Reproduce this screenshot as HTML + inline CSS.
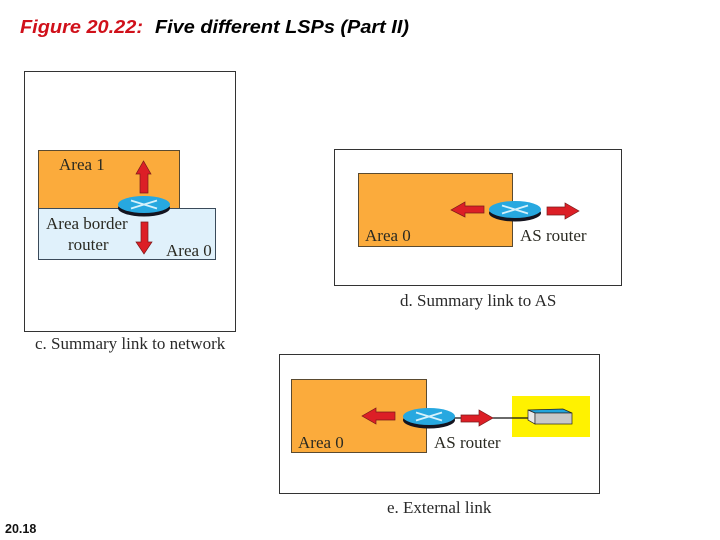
<!DOCTYPE html>
<html><head><meta charset="utf-8"><style>html,body{margin:0;padding:0;background:#fff}svg{display:block}</style></head>
<body>
<svg width="720" height="540" viewBox="0 0 720 540" xmlns="http://www.w3.org/2000/svg">
<defs>
<g id="r">
<ellipse cx="0" cy="3.500" rx="26" ry="8.500" fill="#14141f"/>
<ellipse cx="0" cy="0" rx="26" ry="8.500" fill="#27a8e0"/>
<path d="M-13,-4 L13,4 M-13,4 L13,-4" stroke="#d5f1fb" stroke-width="1.8"/>
</g>
</defs>
<style>
.t{font-family:"Liberation Serif",serif;font-size:17px;fill:#2a2a22}
.c{font-family:"Liberation Serif",serif;font-size:17px;fill:#2a2a2a}
.a{fill:#dc1f26;stroke:#7a1a1a;stroke-width:.7}
</style>
<text x="20" y="33" textLength="123" lengthAdjust="spacingAndGlyphs" font-family="Liberation Sans,sans-serif" font-size="18.6" font-style="italic" font-weight="700" fill="#d0101a">Figure 20.22:</text>
<text x="155" y="33" textLength="254" lengthAdjust="spacingAndGlyphs" font-family="Liberation Sans,sans-serif" font-size="18.6" font-style="italic" font-weight="700" fill="#000">Five different LSPs (Part II)</text>

<rect x="24.500" y="71.500" width="211" height="260" fill="#fff" stroke="#333" stroke-width="1"/>
<rect x="38.500" y="150.500" width="141" height="60" fill="#fbab3c" stroke="#5a4a30"/>
<rect x="38.500" y="208.500" width="177" height="51" fill="#e0f1fb" stroke="#3a4a5a"/>
<use href="#r" x="144" y="204.500"/>
<path class="a" d="M140,193 V174 H136 L143.500,161 L151,174 H148 V193 Z"/>
<path class="a" d="M141,222 V242 H136 L144,254 L152,242 H148 V222 Z"/>
<text class="t" x="59" y="170">Area 1</text>
<text class="t" x="46" y="229">Area border</text>
<text class="t" x="68" y="250">router</text>
<text class="t" x="166" y="256">Area 0</text>
<text class="c" x="35" y="349">c. Summary link to network</text>

<rect x="334.500" y="149.500" width="287" height="136" fill="#fff" stroke="#333"/>
<rect x="358.500" y="173.500" width="154" height="73" fill="#fbab3c" stroke="#5a4a30"/>
<use href="#r" x="515" y="209.500"/>
<path class="a" d="M484,206 H465 V202 L451,210 L465,217 V213 H484 Z"/>
<path class="a" d="M547,207 H565 V203 L579,211 L565,219 V215 H547 Z"/>
<text class="t" x="365" y="241">Area 0</text>
<text class="t" x="520" y="241">AS router</text>
<text class="c" x="400" y="306">d. Summary link to AS</text>

<rect x="279.500" y="354.500" width="320" height="139" fill="#fff" stroke="#333"/>
<rect x="291.500" y="379.500" width="135" height="73" fill="#fbab3c" stroke="#5a4a30"/>
<rect x="512" y="396" width="78" height="41" fill="#fff200"/>
<line x1="450" y1="418" x2="530" y2="418" stroke="#111" stroke-width="1.200"/>
<use href="#r" x="429" y="416.500"/>
<path class="a" d="M395,412 H376 V408 L362,416 L376,424 V420 H395 Z"/>
<path class="a" d="M461,415 H479 V410 L493,418 L479,426 V422 H461 Z"/>
<path d="M528,410 L563,409 L572,413 H535 Z" fill="#22a5dc" stroke="#222" stroke-width=".7"/>
<path d="M528,410 L535,413 V424 L528,420 Z" fill="#e8e8e8" stroke="#222" stroke-width=".7"/>
<rect x="535" y="413" width="37" height="11" fill="#c8c8c8" stroke="#222" stroke-width=".7"/>
<text class="t" x="298" y="448">Area 0</text>
<text class="t" x="434" y="448">AS router</text>
<text class="c" x="387" y="513">e. External link</text>

<text x="5" y="533" font-family="Liberation Sans,sans-serif" font-size="12.500" font-weight="700" fill="#111">20.18</text>
</svg>
</body></html>
